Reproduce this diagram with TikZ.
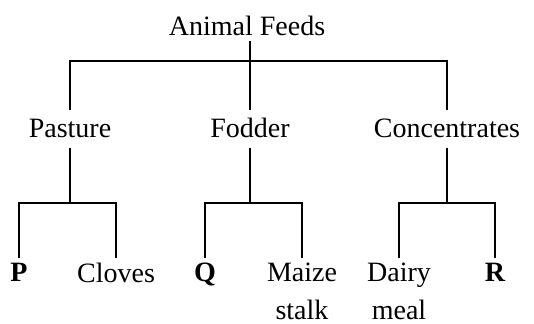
\documentclass[tikz,border=0pt]{standalone}
\usepackage{fontspec}
\setmainfont{Liberation Serif}
\usetikzlibrary{calc}

\tikzset{
    feed/.style={font=\fontsize{14}{18.8}\selectfont, inner xsep=0pt},
    group/.style={feed, text height=9.5pt, text depth=1.5pt, inner ysep=4pt, anchor=base},
    leaf/.style={feed, inner ysep=2.5pt, anchor=north, align=center},
    tree/.style={line width=0.9pt}
}

\begin{document}
\begin{tikzpicture}[x=0.5pt, y=-0.5pt]
    \useasboundingbox (0,0) rectangle (534,323);

    \node[feed, text depth=0pt, inner ysep=3pt, anchor=base] (feeds) at (247,35) {Animal Feeds};

    \node[group] (pasture) at (70,137) {Pasture};
    \node[group] (fodder) at (250,137) {Fodder};
    \node[group] (concentrates) at (447,137) {Concentrates};

    \node[leaf] (p) at (19,258) {\textbf{P}};
    \node[leaf] (cloves) at (116,258) {Cloves};
    \node[leaf] (q) at (205,258) {\textbf{Q}};
    \node[leaf] (maize) at (302,258) {Maize\\stalk};
    \node[leaf] (dairy) at (399,258) {Dairy\\meal};
    \node[leaf] (r) at (495,258) {\textbf{R}};

    \coordinate (topbar) at (250,61);
    \coordinate (pbar) at (70,203);
    \coordinate (fbar) at (250,203);
    \coordinate (cbar) at (447,203);

    \draw[tree] (fodder.north) -- (fodder.north |- feeds.south);
    \draw[tree] (pasture.north) |- (topbar) -| (concentrates.north);

    \draw[tree] (pasture.south) -- (pbar);
    \draw[tree] (p.north) |- (pbar) -| (cloves.north);
    \draw[tree] (fodder.south) -- (fbar);
    \draw[tree] (q.north) |- (fbar) -| (maize.north);
    \draw[tree] (concentrates.south) -- (cbar);
    \draw[tree] (dairy.north) |- (cbar) -| (r.north);
\end{tikzpicture}
\end{document}
